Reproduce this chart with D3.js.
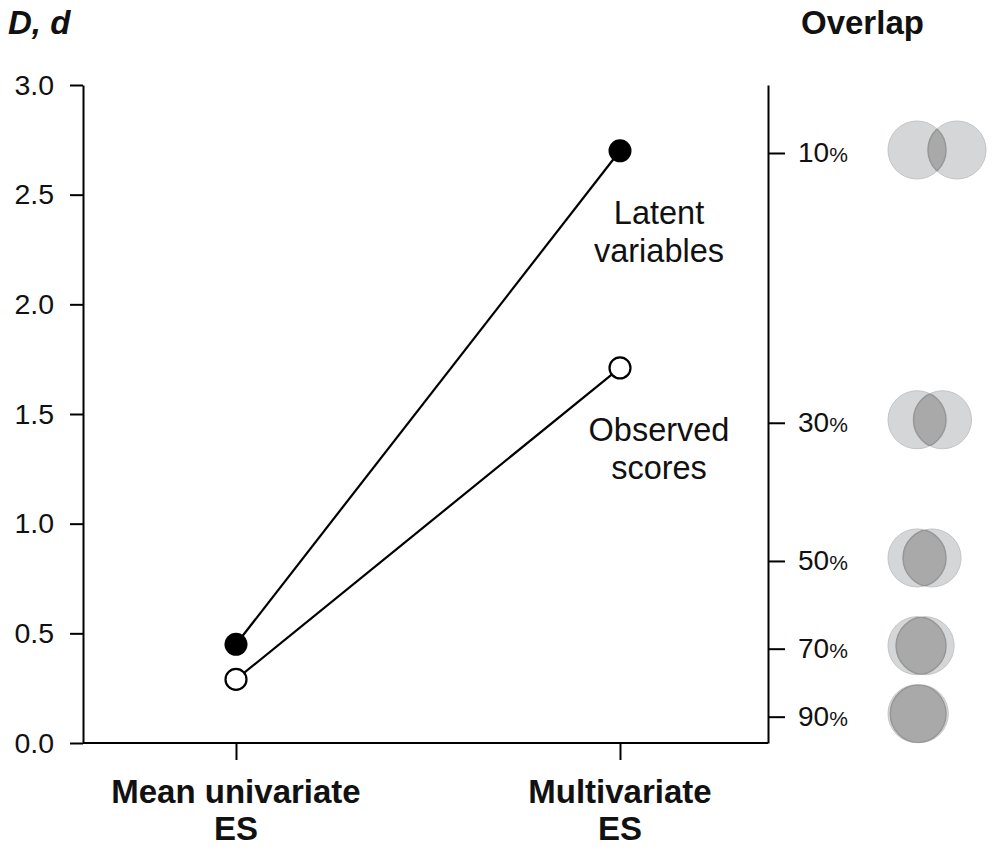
<!DOCTYPE html>
<html lang="en">
  <head>
    <meta charset="UTF-8" />
    <title>D, d and overlap</title>
    <script src="https://cdn.jsdelivr.net/npm/d3@7"></script>
    <style>
      body { margin: 0; background: #fff; }
      svg { display: block; font-family: "Liberation Sans", Arial, sans-serif; }
    </style>
  </head>
  <body>
    <svg width="996" height="853"></svg>
    <script>
      // data
      const categories = ["Mean univariate ES", "Multivariate ES"];
      const latent = [0.45, 2.70];
      const observed = [0.29, 1.71];
      const seriesNames = ["Latent variables", "Observed scores"];
      const yTicks = [0, 0.5, 1.0, 1.5, 2.0, 2.5, 3.0];
      const overlapPct = [10, 30, 50, 70, 90];
      const overlapD = [2.69, 1.46, 0.83, 0.43, 0.12];   // where each overlap tick sits on the d scale
      const overlapShift = [1.38, 0.88, 0.52, 0.28, 0.08]; // distance between circle centres, in radii

      const svg = d3.select("svg");
      const axLeft = 83, axRight = 768, axTop = 85, axBottom = 743;

      const y = d3.scaleLinear().domain([0, 3]).range([axBottom, axTop]);
      const x = d3.scalePoint().domain(categories).range([236, 620]);

      // left axis
      const yAxis = d3.axisLeft(y).tickValues(yTicks).tickFormat(d3.format(".1f"))
        .tickSize(13).tickSizeOuter(0).tickPadding(16);
      const gy = svg.append("g").attr("transform", `translate(${axLeft},0)`).call(yAxis);
      gy.selectAll("text").attr("font-size", 28.5).attr("fill", "#111");

      // right axis (overlap)
      const rAxis = d3.axisRight(y).tickValues(overlapD).tickSize(17).tickSizeOuter(0).tickPadding(13)
        .tickFormat("");
      const gr = svg.append("g").attr("transform", `translate(${axRight},0)`).call(rAxis);
      gr.selectAll(".tick text").each(function (d, i) {
        const t = d3.select(this).attr("font-size", 28).attr("fill", "#111");
        t.append("tspan").text(overlapPct[i]);
        t.append("tspan").attr("font-size", 21).text("%");
      });

      // bottom axis
      const xAxis = d3.axisBottom(x).tickSize(17).tickSizeOuter(0).tickFormat("");
      const gx = svg.append("g").attr("transform", `translate(0,${axBottom})`).call(xAxis);
      gx.select(".domain").remove();
      svg.append("line")
        .attr("x1", axLeft).attr("x2", axRight).attr("y1", axBottom).attr("y2", axBottom)
        .attr("stroke", "#000");

      svg.selectAll(".domain, .tick line").attr("stroke", "#000").attr("stroke-width", 2);
      svg.selectAll("line").attr("stroke-width", 2);

      // category labels, two lines each
      categories.forEach((c) => {
        const k = c.lastIndexOf(" ");
        const t = svg.append("text")
          .attr("x", x(c)).attr("y", 803)
          .attr("text-anchor", "middle").attr("font-size", 33).attr("font-weight", "bold")
          .attr("fill", "#111");
        t.append("tspan").attr("x", x(c)).text(c.slice(0, k));
        t.append("tspan").attr("x", x(c)).attr("dy", 37).text(c.slice(k + 1));
      });

      // titles
      svg.append("text").attr("x", 8).attr("y", 34)
        .attr("font-size", 33).attr("font-weight", "bold").attr("font-style", "italic")
        .attr("fill", "#111").text("D, d");
      svg.append("text").attr("x", 801).attr("y", 34)
        .attr("font-size", 33).attr("font-weight", "bold")
        .attr("fill", "#111").text("Overlap");

      // lines and points
      const line = d3.line().x((d, i) => x(categories[i])).y((d) => y(d));
      [latent, observed].forEach((s) => {
        svg.append("path").attr("d", line(s))
          .attr("fill", "none").attr("stroke", "#000").attr("stroke-width", 2.2);
      });
      svg.selectAll(".latent").data(latent).join("circle")
        .attr("cx", (d, i) => x(categories[i])).attr("cy", (d) => y(d)).attr("r", 11.5)
        .attr("fill", "#000");
      svg.selectAll(".observed").data(observed).join("circle")
        .attr("cx", (d, i) => x(categories[i])).attr("cy", (d) => y(d)).attr("r", 10.5)
        .attr("fill", "#fff").attr("stroke", "#000").attr("stroke-width", 2.2);

      // series labels under the multivariate points
      [latent, observed].forEach((s, i) => {
        const name = seriesNames[i];
        const k = name.indexOf(" ");
        const cx = x(categories[1]) + 39;
        const t = svg.append("text")
          .attr("x", cx).attr("y", y(s[1]) + 73)
          .attr("text-anchor", "middle").attr("font-size", 32.5).attr("fill", "#111");
        t.append("tspan").attr("x", cx).text(name.slice(0, k));
        t.append("tspan").attr("x", cx).attr("dy", 38).text(name.slice(k + 1));
      });

      // overlap circles
      const r = 29, cx0 = axRight + 149;
      const defs = svg.append("defs");
      overlapD.forEach((d, i) => {
        const cy = y(d) - 3;
        const cx1 = cx0 + overlapShift[i] * r;
        defs.append("clipPath").attr("id", "clipB" + i)
          .append("circle").attr("cx", cx1).attr("cy", cy).attr("r", r);
        defs.append("clipPath").attr("id", "clipA" + i)
          .append("circle").attr("cx", cx0).attr("cy", cy).attr("r", r);
        const g = svg.append("g");
        [cx0, cx1].forEach((cx) => {
          g.append("circle").attr("cx", cx).attr("cy", cy).attr("r", r)
            .attr("fill", "#d4d6d7").attr("stroke", "#c2c4c5").attr("stroke-width", 1);
        });
        g.append("circle").attr("cx", cx0).attr("cy", cy).attr("r", r)
          .attr("clip-path", `url(#clipB${i})`)
          .attr("fill", "#a9a9a9").attr("stroke", "#979797").attr("stroke-width", 1.5);
        g.append("circle").attr("cx", cx1).attr("cy", cy).attr("r", r)
          .attr("clip-path", `url(#clipA${i})`)
          .attr("fill", "none").attr("stroke", "#979797").attr("stroke-width", 1.5);
      });
    </script>
  </body>
</html>
